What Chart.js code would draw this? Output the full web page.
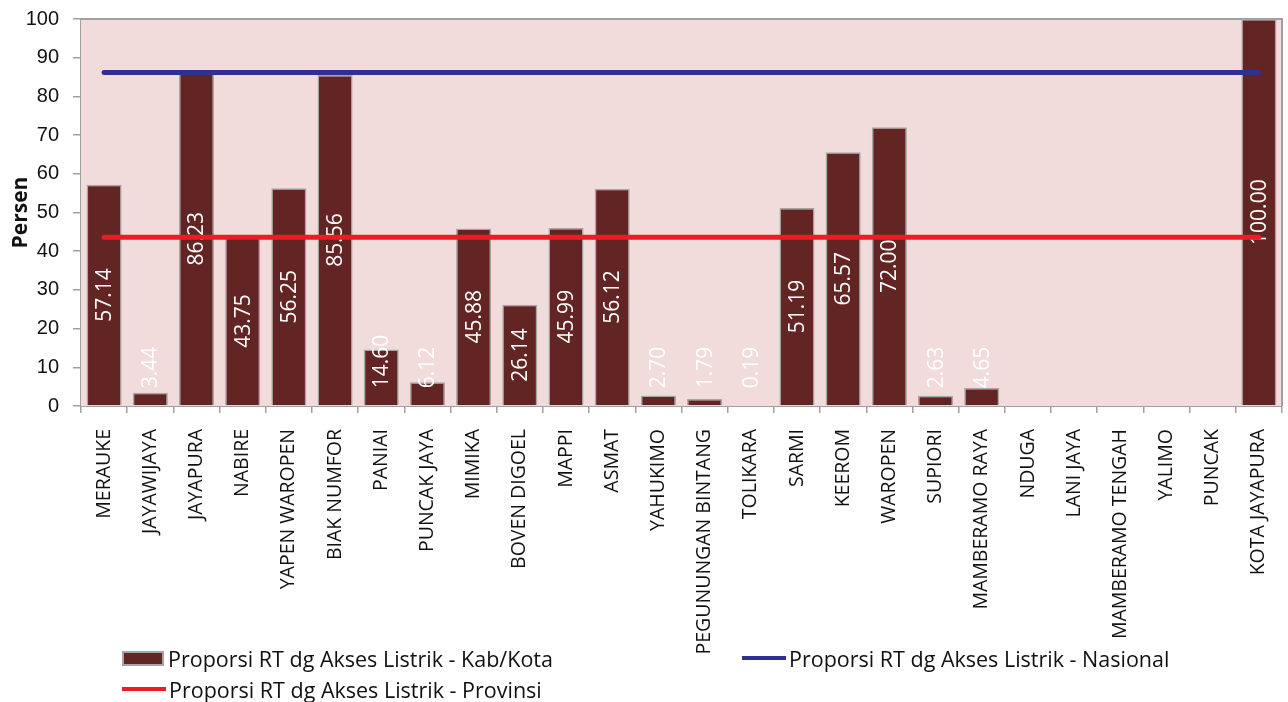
<!DOCTYPE html>
<html>
<head>
<meta charset="utf-8">
<script src="https://cdn.jsdelivr.net/npm/chart.js@4.4.1/dist/chart.umd.min.js"></script>
<style>
    body { margin: 0; background: #fff; }
    #wrap { position: relative; width: 1288px; height: 702px; }
    .leg { position: absolute; font-family: "Open Sans", sans-serif; font-size: 21.5px; color: #111; display: flex; align-items: center; white-space: nowrap; height: 24px; }
    .sw-bar { width: 38px; height: 11px; background: #632523; border: 2px solid #a6a6a6; margin-right: 4px; }
    .sw-line { width: 44px; height: 4px; margin-right: 3px; }
</style>
</head>
<body>
<div id="wrap">
    <canvas id="chart" width="1288" height="702"></canvas>
    <div class="leg" style="left:122px; top:646px;"><span class="sw-bar"></span>Proporsi RT dg Akses Listrik - Kab/Kota</div>
    <div class="leg" style="left:742px; top:646px;"><span class="sw-line" style="background:#2e3192"></span>Proporsi RT dg Akses Listrik - Nasional</div>
    <div class="leg" style="left:122px; top:677px;"><span class="sw-line" style="background:#ed1c24"></span>Proporsi RT dg Akses Listrik - Provinsi</div>
</div>
<script>
const kabupaten = ["MERAUKE", "JAYAWIJAYA", "JAYAPURA", "NABIRE", "YAPEN WAROPEN", "BIAK NUMFOR",
    "PANIAI", "PUNCAK JAYA", "MIMIKA", "BOVEN DIGOEL", "MAPPI", "ASMAT", "YAHUKIMO",
    "PEGUNUNGAN BINTANG", "TOLIKARA", "SARMI", "KEEROM", "WAROPEN", "SUPIORI",
    "MAMBERAMO RAYA", "NDUGA", "LANI JAYA", "MAMBERAMO TENGAH", "YALIMO", "PUNCAK", "KOTA JAYAPURA"];
const akses_kab = [57.14, 3.44, 86.23, 43.75, 56.25, 85.56, 14.60, 6.12, 45.88, 26.14, 45.99, 56.12, 2.70,
    1.79, 0.19, 51.19, 65.57, 72.00, 2.63, 4.65, null, null, null, null, null, 100.00];
const akses_nasional = 86.2;
const akses_provinsi = 43.6;
const y_ticks = [0, 10, 20, 30, 40, 50, 60, 70, 80, 90, 100];

const nasional_values = kabupaten.map(() => akses_nasional);
const provinsi_values = kabupaten.map(() => akses_provinsi);

// pink plot area with grey frame
const plotBackground = {
    id: "plotBackground",
    beforeDatasetsDraw(chart) {
        const a = chart.chartArea;
        const ctx = chart.ctx;
        ctx.save();
        ctx.fillStyle = "#f2dcdb";
        ctx.fillRect(a.left, a.top, a.right - a.left, a.bottom - a.top);
        ctx.strokeStyle = "#a0a0a0";
        ctx.lineWidth = 2;
        ctx.beginPath();
        ctx.moveTo(a.left, a.top);
        ctx.lineTo(a.right, a.top);
        ctx.lineTo(a.right, a.bottom);
        ctx.stroke();
        ctx.restore();
    }
};

// value labels, drawn right after the bars so the lines go over them
const barLabels = {
    id: "barLabels",
    afterDatasetDraw(chart, args) {
        if (args.index !== 0) return;
        const ctx = chart.ctx;
        const meta = args.meta;
        ctx.save();
        ctx.font = "21px 'Open Sans'";
        ctx.fillStyle = "#ffffff";
        ctx.textBaseline = "middle";
        meta.data.forEach((bar, i) => {
            const v = akses_kab[i];
            if (v === null) return;
            const txt = v.toFixed(2);
            const w = ctx.measureText(txt).width;
            const h = bar.base - bar.y;
            ctx.save();
            ctx.translate(bar.x, 0);
            ctx.rotate(-Math.PI / 2);
            if (h > w + 8) {
                ctx.textAlign = "center";
                ctx.fillText(txt, -(bar.y + h / 2), 1);
            } else {
                ctx.textAlign = "left";
                ctx.fillText(txt, -(bar.base - 17), 1);
            }
            ctx.restore();
        });
        ctx.restore();
    }
};

const config = {
    type: "bar",
    data: {
        labels: kabupaten,
        datasets: [
            {
                label: "Proporsi RT dg Akses Listrik - Kab/Kota",
                data: akses_kab,
                backgroundColor: "#632523",
                borderColor: "#a6a6a6",
                borderWidth: 1.5,
                barPercentage: 0.76,
                categoryPercentage: 1,
                order: 2
            },
            {
                type: "line",
                label: "Proporsi RT dg Akses Listrik - Nasional",
                data: nasional_values,
                borderColor: "#2e3192",
                backgroundColor: "#2e3192",
                borderWidth: 5,
                borderCapStyle: "round",
                pointRadius: 0,
                order: 1
            },
            {
                type: "line",
                label: "Proporsi RT dg Akses Listrik - Provinsi",
                data: provinsi_values,
                borderColor: "#ed1c24",
                backgroundColor: "#ed1c24",
                borderWidth: 5,
                borderCapStyle: "round",
                pointRadius: 0,
                order: 0
            }
        ]
    },
    options: {
        responsive: false,
        animation: false,
        layout: {
            padding: { top: 19, right: 6, left: 0, bottom: 0 }
        },
        plugins: {
            legend: { display: false },
            tooltip: { enabled: false }
        },
        scales: {
            x: {
                afterFit(scale) {
                    scale.height = 702 - 406;
                    scale.paddingLeft = 0;
                    scale.paddingRight = 0;
                },
                grid: {
                    drawOnChartArea: false,
                    tickLength: 7,
                    color: "#a0a0a0",
                    lineWidth: 1.5
                },
                border: { color: "#a0a0a0", width: 2 },
                ticks: {
                    minRotation: 90,
                    maxRotation: 90,
                    autoSkip: false,
                    padding: 16,
                    color: "#111",
                    font: { family: "'Open Sans'", size: 19.5 }
                }
            },
            y: {
                min: 0,
                max: 100,
                afterFit(scale) {
                    scale.width = 81;
                    scale.paddingTop = 0;
                    scale.paddingBottom = 0;
                },
                afterBuildTicks(scale) { scale.ticks = y_ticks.map(v => ({ value: v })); },
                grid: {
                    drawOnChartArea: false,
                    tickLength: 8,
                    color: "#a0a0a0",
                    lineWidth: 1.5
                },
                border: { color: "#a0a0a0", width: 2 },
                ticks: {
                    padding: 14,
                    color: "#111",
                    font: { family: "'Liberation Sans'", size: 20 }
                },
                title: {
                    display: true,
                    text: "Persen",
                    color: "#111",
                    padding: { top: 8, bottom: 0 },
                    font: { family: "'Open Sans'", size: 21, weight: "bold" }
                }
            }
        }
    },
    plugins: [plotBackground, barLabels]
};

window.addEventListener("DOMContentLoaded", () => {
    const ctx = document.getElementById("chart").getContext("2d");
    new Chart(ctx, config);
});
</script>
</body>
</html>
